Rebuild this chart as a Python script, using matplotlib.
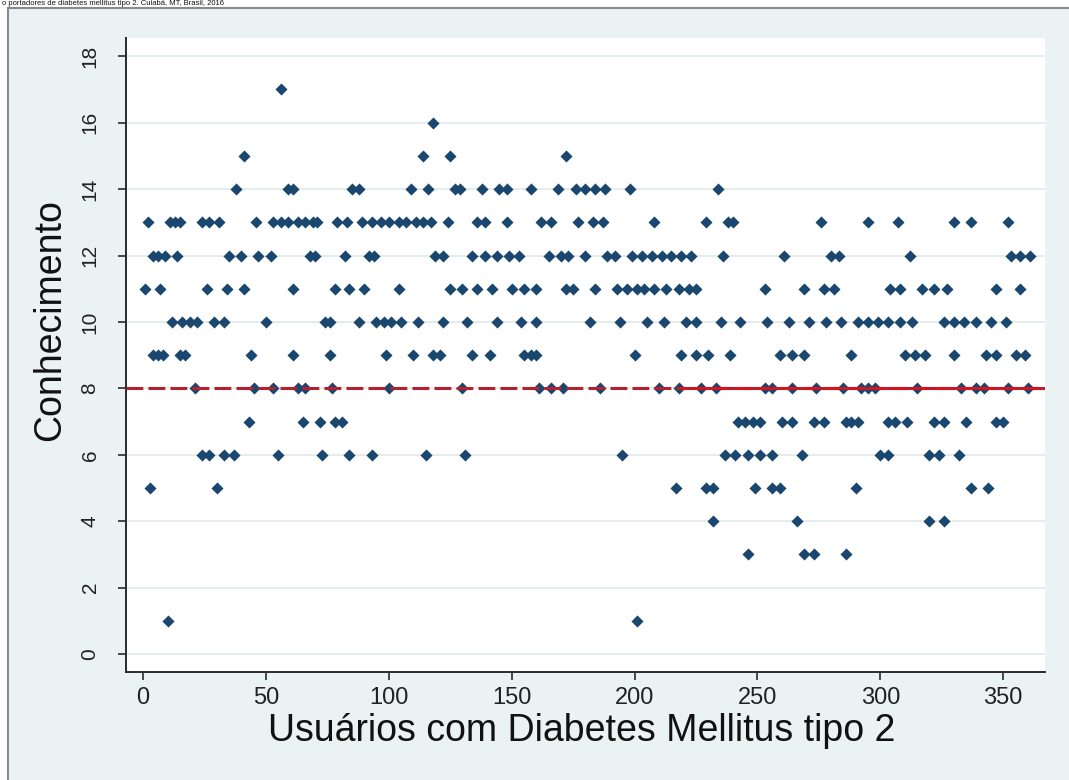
# Conhecimento sobre diabetes por usuário (gráfico de dispersão estilo Stata)

import numpy as np
import matplotlib.pyplot as plt
from matplotlib.patches import Rectangle

plt.rcParams['font.family'] = ['Liberation Sans', 'DejaVu Sans']

# número de ordem dos usuários em cada escore de conhecimento
escore_1 = [10, 201]
escore_3 = [246, 269, 273, 286]
escore_4 = [232, 266, 320, 326]
escore_5 = [3, 30, 217, 229, 232, 249, 256, 259, 290, 337, 344]
escore_6 = [24, 27, 33, 37, 55, 73, 84, 93, 115, 131, 195, 237, 241, 246,
            251, 256, 268, 300, 303, 320, 324, 332]
escore_7 = [43, 65, 72, 78, 81, 242, 245, 248, 251, 260, 264, 273, 277, 286,
            288, 291, 303, 306, 311, 322, 326, 335, 347, 350]
escore_8 = [21, 45, 53, 63, 66, 77, 100, 130, 161, 166, 171, 186, 210, 218,
            227, 233, 253, 256, 264, 274, 285, 292, 295, 298, 315, 333, 339,
            342, 352, 360]
escore_9 = [4, 6, 8, 15, 17, 44, 61, 76, 99, 110, 118, 121, 134, 141, 155,
            158, 160, 200, 219, 225, 230, 239, 259, 264, 269, 288, 310, 314,
            318, 330, 343, 347, 355, 359]
escore_10 = [12, 16, 19, 22, 29, 33, 50, 74, 76, 88, 95, 98, 101, 105, 112,
             122, 132, 144, 154, 160, 182, 194, 205, 212, 221, 225, 235, 243,
             254, 263, 271, 278, 284, 291, 295, 299, 303, 308, 313, 326, 330,
             334, 339, 345, 351]
escore_11 = [1, 7, 26, 34, 41, 61, 78, 84, 90, 104, 125, 130, 136, 142, 150,
             155, 160, 172, 175, 184, 193, 197, 201, 204, 208, 213, 218, 222,
             225, 253, 269, 277, 281, 304, 308, 317, 322, 327, 347, 357]
escore_12 = [4, 6, 9, 14, 35, 40, 47, 52, 68, 70, 82, 92, 94, 119, 122, 134,
             139, 144, 149, 153, 165, 170, 173, 180, 189, 192, 199, 203, 207,
             211, 215, 219, 223, 236, 261, 280, 283, 312, 353, 357, 361]
escore_13 = [2, 11, 13, 15, 24, 27, 31, 46, 53, 56, 59, 63, 66, 69, 71, 79,
             83, 89, 93, 97, 100, 104, 107, 111, 114, 117, 124, 136, 139, 148,
             162, 166, 177, 183, 187, 208, 229, 238, 240, 276, 295, 307, 330,
             337, 352]
escore_14 = [38, 59, 61, 85, 88, 109, 116, 127, 129, 138, 145, 148, 158, 169,
             176, 180, 184, 188, 198, 234]
escore_15 = [41, 114, 125, 172]
escore_16 = [118]
escore_17 = [56]

corte = 8  # linha de referência

grupos = [(1, escore_1), (3, escore_3), (4, escore_4), (5, escore_5),
          (6, escore_6), (7, escore_7), (8, escore_8), (9, escore_9),
          (10, escore_10), (11, escore_11), (12, escore_12), (13, escore_13),
          (14, escore_14), (15, escore_15), (16, escore_16), (17, escore_17)]
x = np.concatenate([np.array(u, dtype=float) for _, u in grupos])
y = np.concatenate([np.full(len(u), k, dtype=float) for k, u in grupos])

W, H = 1069, 780
fig = plt.figure(figsize=(W / 100, H / 100), dpi=100)
fig.patch.set_facecolor('white')

# região do gráfico (fundo azul acinzentado) com borda
fig.patches.append(Rectangle((8 / W, -0.02), 1.1, 1 - 8 / H + 0.02,
                             transform=fig.transFigure, facecolor='#eaf2f3',
                             edgecolor='#8a8a8a', linewidth=1.5, zorder=-10))

# título no topo da imagem (faixa estreita acima da borda)
fig.text(0.002, 1 - 3.5 / H,
         'o portadores de diabetes mellitus tipo 2. Cuiabá, MT, Brasil, 2016',
         fontsize=5.5, ha='left', va='center', color='#111111')

ax = fig.add_axes([126 / W, 1 - 672 / H, (1045 - 126) / W, (672 - 38) / H])
ax.set_facecolor('white')
ax.set_zorder(1)

ax.scatter(x, y, marker='D', s=38, color='#1a476f', linewidths=0, zorder=3)
ax.axhline(corte, color='#b5202e', linewidth=2.2, linestyle=(0, (5.5, 1.7)),
           zorder=4)
ax.plot([218, 367], [corte, corte], color='#d8121c', linewidth=2.2,
        linestyle=(3, (5.5, 1.7)), zorder=4)

ax.set_xlim(-6.9, 367)
ax.set_ylim(-0.54, 18.55)
ax.set_xticks(np.arange(0, 351, 50))
ax.set_yticks(np.arange(0, 19, 2))
ax.grid(axis='y', color='#e3eaec', linewidth=1.3, zorder=0)
ax.set_axisbelow(True)

for s in ['top', 'right']:
    ax.spines[s].set_visible(False)
for s in ['left', 'bottom']:
    ax.spines[s].set_color('#2b2b2b')
    ax.spines[s].set_linewidth(1.4)

ax.tick_params(axis='x', labelsize=17, length=6, width=1.2, pad=5,
               color='#2b2b2b', labelcolor='#222222')
ax.tick_params(axis='y', labelsize=15, length=6, width=1.2, pad=13,
               color='#2b2b2b', labelcolor='#222222')
for lab in ax.get_yticklabels():
    lab.set_rotation(90)
    lab.set_va('center')
    lab.set_ha('right')

fig.text(582 / W, 1 - 731 / H, 'Usuários com Diabetes Mellitus tipo 2',
         fontsize=27, ha='center', va='center', color='#111111')
fig.text(50 / W, 1 - 320 / H, 'Conhecimento', fontsize=27, rotation=90,
         ha='center', va='center', color='#111111')

fig.savefig('out.png', dpi=100, facecolor=fig.get_facecolor())
